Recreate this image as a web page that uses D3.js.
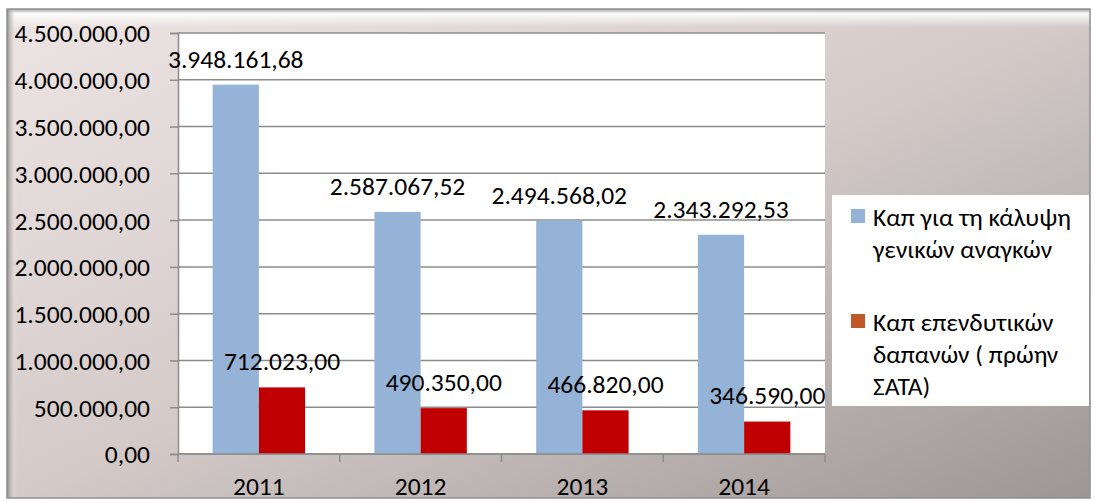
<!DOCTYPE html>
<html><head><meta charset="utf-8">
<script src="https://cdn.jsdelivr.net/npm/d3@7"></script>
<style>
html,body{margin:0;padding:0;background:#fff;}
svg text{font-family:Carlito,"Open Sans",sans-serif;fill:#000;}
</style></head>
<body>
<svg id="chart" width="1095" height="502"></svg>
<script>
const categories = ["2011","2012","2013","2014"];
const seriesNames = ["Καπ για τη κάλυψη γενικών αναγκών","Καπ επενδυτικών δαπανών ( πρώην ΣΑΤΑ)"];
const legendLines = [["Καπ για τη κάλυψη","γενικών αναγκών"],["Καπ επενδυτικών","δαπανών ( πρώην","ΣΑΤΑ)"]];
const generalNeeds = [3948161.68, 2587067.52, 2494568.02, 2343292.53];
const investment = [712023.00, 490350.00, 466820.00, 346590.00];
const yTicks = [0,500000,1000000,1500000,2000000,2500000,3000000,3500000,4000000,4500000];
const barColors = ["#95B3D7","#C00000"];
const legendColors = ["#95B3D7","#C0592A"];

const svg = d3.select("#chart");
const W = 1095, H = 502;
const loc = d3.formatLocale({decimal:",", thousands:".", grouping:[3], currency:["","€"]});
const fmt = loc.format(",.2f");
const FS = 25.5;

// background
const defs = svg.append("defs");
const g1 = defs.append("linearGradient").attr("id","bg").attr("x1","0").attr("y1","0").attr("x2","1").attr("y2","1");
g1.append("stop").attr("offset","0").attr("stop-color","#EDE5E4");
g1.append("stop").attr("offset","0.5").attr("stop-color","#D4CBC9");
g1.append("stop").attr("offset","1").attr("stop-color","#9C9694");
const gt = defs.append("linearGradient").attr("id","topb").attr("x1","0").attr("y1","0").attr("x2","0").attr("y2","1");
gt.append("stop").attr("offset","0").attr("stop-color","#9a9a9a").attr("stop-opacity","0.9");
gt.append("stop").attr("offset","0.25").attr("stop-color","#ffffff").attr("stop-opacity","0.9");
gt.append("stop").attr("offset","1").attr("stop-color","#ffffff").attr("stop-opacity","0");
const gl = defs.append("linearGradient").attr("id","leftb").attr("x1","0").attr("y1","0").attr("x2","1").attr("y2","0");
gl.append("stop").attr("offset","0").attr("stop-color","#8a8686").attr("stop-opacity","0.9");
gl.append("stop").attr("offset","0.4").attr("stop-color","#b8b2b1").attr("stop-opacity","0.6");
gl.append("stop").attr("offset","1").attr("stop-color","#ffffff").attr("stop-opacity","0");

svg.append("rect").attr("x",0).attr("y",0).attr("width",W).attr("height",H).attr("fill","#fff");
svg.append("rect").attr("x",7).attr("y",9).attr("width",1083).attr("height",489).attr("fill","url(#bg)");
svg.append("rect").attr("x",7).attr("y",9).attr("width",1083).attr("height",18).attr("fill","url(#topb)");
svg.append("rect").attr("x",7).attr("y",9).attr("width",10).attr("height",489).attr("fill","url(#leftb)");
svg.append("rect").attr("x",7).attr("y",9).attr("width",1083).attr("height",489).attr("fill","none").attr("stroke","#8f8f8f").attr("stroke-width",1.5);

// plot area
const px0 = 178, px1 = 825, py0 = 33, py1 = 454;
svg.append("rect").attr("x",px0).attr("y",py0).attr("width",px1-px0).attr("height",py1-py0).attr("fill","#fff");

const y = d3.scaleLinear().domain([0,4500000]).range([py1,py0]);
const x0 = d3.scaleBand().domain(categories).range([px0,px1]).paddingInner(0).paddingOuter(0);
const groupW = x0.bandwidth();
const barW = groupW/3.5;

// gridlines
svg.append("g").selectAll("line").data(yTicks).join("line")
  .attr("x1",px0).attr("x2",px1).attr("y1",d=>y(d)).attr("y2",d=>y(d))
  .attr("stroke","#8c8c8c").attr("stroke-width",1.5);

// y axis
const yAxis = d3.axisLeft(y).tickValues(yTicks).tickFormat(fmt).tickSize(8).tickPadding(20);
const ya = svg.append("g").attr("transform",`translate(${px0},0)`).call(yAxis);
ya.select(".domain").attr("stroke","#8c8c8c").attr("stroke-width",1.5);
ya.selectAll(".tick line").attr("stroke","#8c8c8c").attr("stroke-width",1.5);
ya.selectAll("text").attr("font-size",FS).attr("dy","0.35em").attr("fill","#000");

// bars
const series = [generalNeeds, investment];
series.forEach((vals,si)=>{
  svg.append("g").selectAll("rect").data(vals).join("rect")
    .attr("x",(d,i)=>x0(categories[i]) + groupW/2 - barW + si*barW)
    .attr("y",d=>y(d)).attr("width",barW).attr("height",d=>py1-y(d))
    .attr("fill",barColors[si]);
});

// x axis
const xa = svg.append("g").attr("transform",`translate(0,${py1})`);
xa.append("line").attr("x1",px0).attr("x2",px1).attr("stroke","#8c8c8c").attr("stroke-width",1.5);
const bounds = categories.map(c=>x0(c)).concat([px1]);
xa.selectAll("line.t").data(bounds).join("line").attr("class","t")
  .attr("x1",d=>d).attr("x2",d=>d).attr("y1",0).attr("y2",8)
  .attr("stroke","#8c8c8c").attr("stroke-width",1.5);
xa.selectAll("text").data(categories).join("text")
  .attr("x",d=>x0(d)+groupW/2).attr("y",41).attr("text-anchor","middle")
  .attr("font-size",FS).text(d=>d);

// data labels
series.forEach((vals,si)=>{
  svg.append("g").selectAll("text").data(vals).join("text")
    .attr("x",(d,i)=>x0(categories[i]) + groupW/2 - barW/2 + si*barW)
    .attr("y",d=>y(d)-26).attr("dy","0.35em").attr("text-anchor","middle")
    .attr("font-size",FS).text(d=>fmt(d));
});

// legend
const lx = 832, ly = 195;
svg.append("rect").attr("x",lx).attr("y",ly).attr("width",1089-lx).attr("height",211).attr("fill","#fff");
const entryY = [217, 322];
legendLines.forEach((lines,si)=>{
  svg.append("rect").attr("x",851).attr("y",entryY[si]-8).attr("width",14).attr("height",14).attr("fill",legendColors[si]);
  lines.forEach((t,li)=>{
    svg.append("text").attr("x",873).attr("y",entryY[si]+li*32).attr("dy","0.35em")
      .attr("font-size",FS).text(t);
  });
});
</script>
</body></html>
